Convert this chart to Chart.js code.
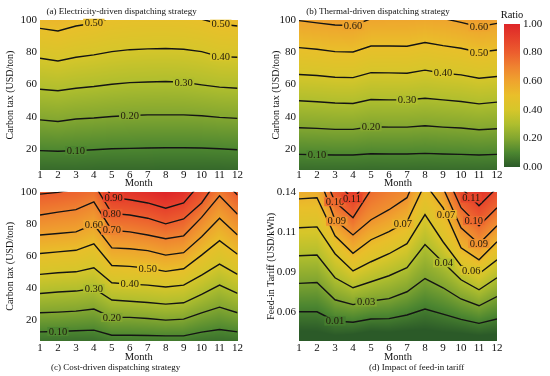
<!DOCTYPE html>
<html><head><meta charset="utf-8">
<script src="https://cdn.jsdelivr.net/npm/chart.js@4.4.1/dist/chart.umd.min.js"></script>
<style>
html,body{margin:0;padding:0;background:#fff;}
#wrap{position:relative;width:550px;height:376px;overflow:hidden;background:#fff;}
#wrap canvas{position:absolute;left:0;top:0;}
</style></head><body>
<div id="wrap">
<canvas id="pa" width="550" height="376"></canvas>
<canvas id="pb" width="550" height="376"></canvas>
<canvas id="pc" width="550" height="376"></canvas>
<canvas id="pd" width="550" height="376"></canvas>
<canvas id="cb" width="550" height="376"></canvas>
</div>
<script>
// ---------- data ----------
const months = [1,2,3,4,5,6,7,8,9,10,11,12];
const taxTicks = [20,40,60,80,100];
const tariffTickPos = [1,2,3,4];
const tariffTicks = ['0.06','0.09','0.11','0.14'];
const ratioTicks = [0,0.2,0.4,0.6,0.8,1.0];

// (a) Electricity-driven: carbon tax (USD/ton) at which the ratio reaches each level
const elecLevels = [0.10,0.20,0.30,0.40,0.50];
const elec10 = [19.0,18.6,19.0,19.6,20.2,20.4,20.6,20.8,20.8,20.6,20.2,19.6];
const elec20 = [38.1,37.1,38.6,39.2,40.2,40.8,41.2,41.2,41.2,40.6,39.6,39.0];
const elec30 = [57.1,56.1,57.7,58.8,60.2,61.2,61.6,61.9,61.4,59.8,58.4,57.7];
const elec40 = [76.3,74.6,76.9,78.4,80.4,81.6,82.1,82.3,81.9,80.4,77.3,76.9];
const elec50 = [94.8,93.2,96.3,98.0,101.5,103.0,103.5,103.5,103.0,100.5,97.5,96.3];

// (b) Thermal-driven
const thermLevels = [0.10,0.20,0.30,0.40,0.50,0.60];
const therm10 = [16.7,16.5,16.3,16.3,17.1,16.9,16.9,17.3,16.9,16.7,16.3,16.7];
const therm20 = [33.2,32.8,32.2,32.2,33.8,33.6,33.6,34.4,33.6,33.0,32.0,32.6];
const therm30 = [49.9,49.3,48.5,48.2,50.7,50.5,50.5,51.5,50.5,49.5,48.0,49.1];
const therm40 = [66.2,65.6,64.5,64.3,67.4,67.2,67.0,68.9,67.0,66.0,63.9,65.0];
const therm50 = [82.9,81.9,80.4,80.2,83.9,83.9,83.7,86.0,84.1,82.5,80.0,81.4];
const therm60 = [99.6,98.2,96.9,96.5,100.8,101.5,101.5,102.5,101.0,98.5,95.8,97.9];

// (c) Cost-driven
const costLevels = [0.10,0.20,0.30,0.40,0.50,0.60,0.70,0.80,0.90];
const cost10 = [12.7,12.9,13.4,13.8,10.6,10.6,10.4,10.2,10.2,12.5,14.2,12.7];
const cost20 = [24.6,25.0,25.6,26.9,21.7,21.7,21.0,20.0,20.6,24.5,28.1,24.6];
const cost30 = [36.6,37.5,38.1,39.7,32.5,31.8,31.0,30.0,30.8,36.0,41.8,36.6];
const cost40 = [48.5,49.5,50.1,52.6,43.3,42.4,41.8,40.6,41.8,48.0,54.9,48.5];
const cost50 = [61.5,62.5,63.5,67.5,54.0,53.5,52.3,50.4,52.0,60.5,69.5,61.0];
const cost60 = [73.0,74.0,75.0,79.6,65.0,64.5,63.3,60.5,62.0,72.0,83.4,73.0];
const cost70 = [85.5,87.3,88.8,93.6,76.0,75.0,73.0,70.7,72.5,84.0,97.5,86.0];
const cost80 = [98.5,99.6,101.8,105.0,86.5,85.5,83.5,80.0,83.0,93.0,109.0,98.0];
const cost90 = [110.5,111.5,113.5,116.5,96.5,95.0,93.0,89.7,93.0,106.0,120.0,110.0];

// (d) Impact of feed-in tariff: position on the tariff axis where each level is reached
const fitLevels = [0.010,0.025,0.040,0.055,0.070,0.085,0.100,0.115];
const fitLabels = ['0.01','0.03','0.04','0.06','0.07','0.09','0.10','0.11'];
const fit01 = [1.00,1.00,0.77,0.74,0.82,0.83,0.92,1.07,0.94,0.81,0.71,0.82];
const fit03 = [1.71,1.73,1.30,1.18,1.27,1.33,1.50,1.83,1.60,1.32,1.15,1.38];
const fit04 = [2.40,2.42,1.85,1.60,1.75,1.90,2.10,2.68,2.24,1.80,1.55,1.85];
const fit06 = [3.10,3.12,2.45,2.02,2.25,2.45,2.70,3.43,2.75,2.15,1.95,2.30];
const fit07 = [3.82,3.85,2.90,2.46,2.80,3.00,3.25,4.20,3.60,2.60,2.30,2.75];
const fit09 = [4.50,4.50,3.30,2.92,3.30,3.55,3.85,4.90,4.10,3.10,2.70,3.15];
const fit10 = [5.20,4.80,3.75,3.35,4.05,4.40,4.60,5.60,4.60,3.60,3.15,3.60];
const fit11 = [5.90,5.50,4.30,3.80,4.40,5.00,5.30,6.30,5.20,4.10,3.65,4.10];

// ---------- helpers ----------
const SERIF = "'Liberation Serif','Times New Roman',Times,serif";
Chart.defaults.font.family = SERIF;
Chart.defaults.color = '#111';

const cmapStops = [
  [0.00,'#2b5a28'],[0.10,'#4c8630'],[0.20,'#82a630'],[0.30,'#afbe2e'],
  [0.40,'#d6c62a'],[0.50,'#e9bf2a'],[0.60,'#efa42e'],[0.70,'#ef8330'],
  [0.80,'#ec5e2e'],[0.90,'#e6412b'],[1.00,'#de2629']];
function hexRgb(h){return [parseInt(h.slice(1,3),16),parseInt(h.slice(3,5),16),parseInt(h.slice(5,7),16)];}
const cmapRgb = cmapStops.map(s=>[s[0],hexRgb(s[1])]);
function cmap(t){
  t = Math.max(0,Math.min(1,t));
  for(let k=0;k<cmapRgb.length-1;k++){
    const a=cmapRgb[k], b=cmapRgb[k+1];
    if(t<=b[0]){const r=(t-a[0])/(b[0]-a[0]);return [0,1,2].map(c=>Math.round(a[1][c]+(b[1][c]-a[1][c])*r));}
  }
  return cmapRgb[cmapRgb.length-1][1];
}
function interpAt(arr,m){
  const f=Math.min(Math.max(m-1,0),arr.length-1);
  const i=Math.min(Math.floor(f),arr.length-2); const r=f-i;
  return arr[i]*(1-r)+arr[i+1]*r;
}
function levelAt(v,ys,lv){
  const n=ys.length;
  if(v<=ys[0]) return lv[0]+(v-ys[0])*(lv[1]-lv[0])/(ys[1]-ys[0]);
  for(let k=0;k<n-1;k++){ if(v<=ys[k+1]){const r=(v-ys[k])/(ys[k+1]-ys[k]);return lv[k]+r*(lv[k+1]-lv[k]);} }
  return lv[n-1]+(v-ys[n-1])*(lv[n-1]-lv[n-2])/(ys[n-1]-ys[n-2]);
}

function fieldPlugin(lines,levels,vmax){
  return {id:'field',beforeDatasetsDraw(chart){
    const {ctx,chartArea:a,scales:{x,y}}=chart;
    const w=Math.round(a.right-a.left), h=Math.round(a.bottom-a.top);
    const off=document.createElement('canvas'); off.width=w; off.height=h;
    const o=off.getContext('2d'); const img=o.createImageData(w,h); const d=img.data;
    for(let i=0;i<w;i++){
      const m=x.getValueForPixel(a.left+i+0.5);
      const ys=lines.map(l=>interpAt(l,m));
      for(let j=0;j<h;j++){
        const v=y.getValueForPixel(a.top+j+0.5);
        const c=cmap(levelAt(v,ys,levels)/vmax);
        const k=(j*w+i)*4; d[k]=c[0]; d[k+1]=c[1]; d[k+2]=c[2]; d[k+3]=255;
      }
    }
    o.putImageData(img,0,0);
    ctx.drawImage(off,a.left,a.top,a.right-a.left,a.bottom-a.top);
  }};
}
function labelPlugin(lines,levels,texts,vmax,spots){
  return {id:'clabels',afterDatasetsDraw(chart){
    const {ctx,scales:{x,y}}=chart;
    ctx.save();
    ctx.font='10.5px '+SERIF; ctx.textAlign='center'; ctx.textBaseline='middle';
    spots.forEach(([li,m])=>{
      const px=x.getPixelForValue(m), py=y.getPixelForValue(interpAt(lines[li],m));
      const t=texts[li]; const tw=ctx.measureText(t).width;
      const c=cmap(levels[li]/vmax);
      ctx.fillStyle='rgb('+c.join(',')+')';
      ctx.fillRect(px-tw/2-1.5,py-4.5,tw+3,9);
      ctx.fillStyle='#231a0c';
      ctx.fillText(t,px,py+0.5);
    });
    ctx.restore();
  }};
}
function textPlugin(items){
  return {id:'texts',afterDraw(chart){
    const ctx=chart.ctx; ctx.save(); ctx.textAlign='center'; ctx.textBaseline='middle'; ctx.fillStyle='#111';
    items.forEach(it=>{ctx.font=it.size+'px '+SERIF; ctx.fillText(it.text,it.x,it.y);});
    ctx.restore();
  }};
}

function makePanel(id,c){
  const datasets=c.lines.map(arr=>({
    data:months.map((m,i)=>({x:m,y:arr[i]})),
    showLine:true,borderColor:'#141414',borderWidth:1.4,pointRadius:0,tension:0,fill:false
  }));
  return new Chart(document.getElementById(id),{
    type:'scatter',
    data:{datasets},
    options:{
      responsive:false,animation:false,devicePixelRatio:1,events:[],
      layout:{padding:c.pad},
      plugins:{legend:{display:false},tooltip:{enabled:false},title:{display:false}},
      scales:{
        x:{type:'linear',min:1,max:12,
          afterBuildTicks:s=>{s.ticks=months.map(v=>({value:v}));},
          ticks:{autoSkip:false,maxRotation:0,padding:c.xTickPad,font:{size:11,lineHeight:1},color:'#111'},
          grid:{display:false,drawTicks:false},border:{display:false},
          title:{display:true,text:'Month',font:{size:10.5},color:'#111',padding:{top:0,bottom:c.monthPad}},
          afterFit:s=>{s.height=c.xH;}},
        y:{type:'linear',min:c.yMin,max:c.yMax,
          afterBuildTicks:s=>{s.ticks=c.yTickVals.map(v=>({value:v}));},
          ticks:{padding:3,font:{size:11,lineHeight:1},color:'#111',callback:c.yFmt},
          grid:{display:false,drawTicks:false},border:{display:false},
          title:{display:true,text:c.yTitle,font:{size:10},color:'#111',padding:{top:c.yTitlePad,bottom:0}},
          afterFit:s=>{s.width=c.yW;}}
      }
    },
    plugins:[fieldPlugin(c.lines,c.levels,c.vmax),
             labelPlugin(c.lines,c.levels,c.texts,c.vmax,c.spots),
             textPlugin(c.captions)]
  });
}

const fmt2 = v=>Number(v).toFixed(2);
const taxFmt = v=>String(v);

makePanel('pa',{
  lines:[elec10,elec20,elec30,elec40,elec50],levels:elecLevels,texts:elecLevels.map(fmt2),vmax:1,
  pad:{left:0,top:20,right:312.5,bottom:186},xH:20,yW:40,xTickPad:0,monthPad:0,yTitlePad:4,
  yMin:7,yMax:100,yTickVals:taxTicks,yFmt:taxFmt,yTitle:'Carbon tax (USD/ton)',
  spots:[[0,3.0],[1,6.0],[2,9.0],[3,11.07],[4,4.0],[4,11.07]],
  captions:[{text:'(a) Electricity-driven dispatching strategy',x:121.6,y:12,size:9}]
});
makePanel('pb',{
  lines:[therm10,therm20,therm30,therm40,therm50,therm60],levels:thermLevels,texts:thermLevels.map(fmt2),vmax:1,
  pad:{left:262,top:20,right:53,bottom:186},xH:20,yW:37,xTickPad:0,monthPad:0,yTitlePad:8,
  yMin:7,yMax:100,yTickVals:taxTicks,yFmt:taxFmt,yTitle:'Carbon tax (USD/ton)',
  spots:[[0,2.0],[1,5.0],[2,7.0],[3,9.0],[4,11.0],[5,4.0],[5,11.0]],
  captions:[{text:'(b) Thermal-driven dispatching strategy',x:378,y:12,size:9}]
});
makePanel('pc',{
  lines:[cost10,cost20,cost30,cost40,cost50,cost60,cost70,cost80,cost90],levels:costLevels,texts:costLevels.map(fmt2),vmax:1,
  pad:{left:0,top:191.7,right:312.5,bottom:0},xH:35,yW:40,xTickPad:2,monthPad:12,yTitlePad:4,
  yMin:7,yMax:100,yTickVals:taxTicks,yFmt:taxFmt,yTitle:'Carbon tax (USD/ton)',
  spots:[[0,2.0],[1,5.0],[2,4.0],[3,6.0],[4,7.0],[5,4.0],[6,5.0],[7,5.0],[8,5.1]],
  captions:[{text:'(c) Cost-driven dispatching strategy',x:115.6,y:368,size:9}]
});
makePanel('pd',{
  lines:[fit01,fit03,fit04,fit06,fit07,fit09,fit10,fit11],levels:fitLevels,texts:fitLabels,vmax:0.13,
  pad:{left:262,top:191.7,right:53,bottom:0},xH:35,yW:37,xTickPad:2,monthPad:12,yTitlePad:3,
  yMin:0.27,yMax:4,yTickVals:tariffTickPos,yFmt:v=>tariffTicks[tariffTickPos.indexOf(v)],yTitle:'Feed-in Tariff (USD/kWh)',
  spots:[[0,3.0],[1,4.73],[2,9.04],[3,10.57],[4,6.77],[4,9.17],[5,3.1],[5,10.99],[6,3.0],[6,10.71],[7,3.94],[7,10.57]],
  captions:[{text:'(d) Impact of feed-in tariff',x:416.7,y:368,size:9}]
});

// colour bar
new Chart(document.getElementById('cb'),{
  type:'scatter',data:{datasets:[]},
  options:{responsive:false,animation:false,devicePixelRatio:1,events:[],
    layout:{padding:{left:504,right:0,top:24,bottom:209}},
    plugins:{legend:{display:false},tooltip:{enabled:false}},
    scales:{
      x:{display:false,min:0,max:1},
      y:{position:'right',min:0,max:1,
        afterBuildTicks:s=>{s.ticks=ratioTicks.map(v=>({value:v}));},
        ticks:{padding:3,font:{size:11,lineHeight:1},color:'#111',callback:v=>Number(v).toFixed(2)},
        grid:{display:false,drawTicks:false},border:{display:false},
        afterFit:s=>{s.width=30;}}
    }},
  plugins:[{id:'bar',beforeDatasetsDraw(chart){
    const {ctx,chartArea:a,scales:{y}}=chart;
    const g=ctx.createLinearGradient(0,y.getPixelForValue(0),0,y.getPixelForValue(1));
    cmapStops.forEach(s=>g.addColorStop(s[0],s[1]));
    ctx.fillStyle=g; ctx.fillRect(a.left,a.top,a.right-a.left,a.bottom-a.top);
  }}, textPlugin([{text:'Ratio',x:512,y:15,size:10.5}])]
});
</script>
</body></html>
